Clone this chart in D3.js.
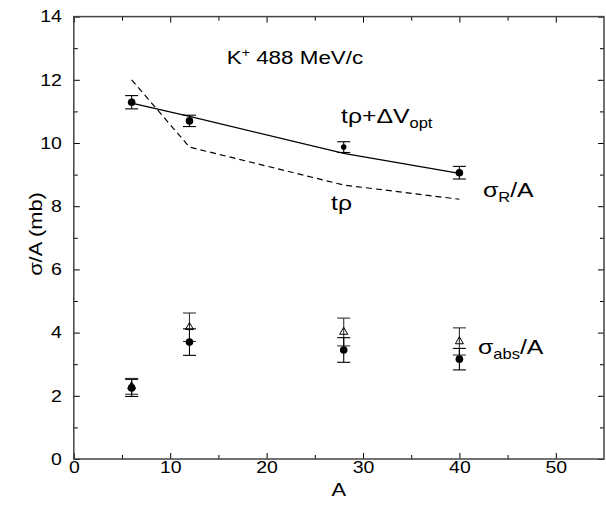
<!DOCTYPE html>
<html>
<head>
<meta charset="utf-8">
<script src="https://cdn.jsdelivr.net/npm/d3@7"></script>
<style>
  body { margin: 0; background: #fff; }
  text { font-family: "Liberation Sans", Arial, sans-serif; fill: #000; }
</style>
</head>
<body>
<script>
// Data
const massNumbers = [6, 12, 28, 40];
const sigmaR = [11.29, 10.70, 9.87, 9.06];
const sigmaRErr = [0.21, 0.18, 0.17, 0.20];
const tRhoDV = [11.26, 10.84, 9.67, 9.04]; // solid curve
const tRho = [12.0, 9.87, 8.67, 8.22]; // dashed curve
const sigmaAbs = [2.25, 3.70, 3.45, 3.16]; // filled circles
const sigmaAbsErr = [0.27, 0.42, 0.39, 0.34];
const sigmaAbsTri = [2.30, 4.17, 4.02, 3.72]; // open triangles
const sigmaAbsTriErr = [0.25, 0.45, 0.44, 0.43];
const xTicks = [0, 10, 20, 30, 40, 50];
const xMinor = [5, 15, 25, 35, 45];
const yTicks = [0, 2, 4, 6, 8, 10, 12, 14];
const yMinor = [1, 3, 5, 7, 9, 11, 13];

// Canvas
const width = 606;
const height = 506;
const SX = 1.18; // the original text is a bit stretched sideways

const svg = d3
  .select("body")
  .append("svg")
  .attr("width", width)
  .attr("height", height);

const xScale = d3.scaleLinear().domain([0, 55]).range([73.8, 604]);
const yScale = d3.scaleLinear().domain([0, 14]).range([459, 16.6]);
const plotLeft = xScale.range()[0];
const plotRight = xScale.range()[1];
const plotBottom = yScale.range()[0];
const plotTop = yScale.range()[1];

// Axes with inward ticks on all four sides
function drawAxis(axis, tx, ty) {
  const g = svg
    .append("g")
    .attr("transform", `translate(${tx}, ${ty})`)
    .call(axis);
  g.select(".domain").remove();
  g.selectAll("line").attr("stroke", "#000");
  return g;
}

const xAxis = drawAxis(
  d3.axisBottom(xScale).tickValues(xTicks).tickSize(-6).tickPadding(2.5),
  0,
  plotBottom
);
drawAxis(d3.axisBottom(xScale).tickValues(xMinor).tickSize(-4).tickFormat(""), 0, plotBottom);
drawAxis(d3.axisTop(xScale).tickValues(xTicks).tickSize(-6).tickFormat(""), 0, plotTop);
drawAxis(d3.axisTop(xScale).tickValues(xMinor).tickSize(-4).tickFormat(""), 0, plotTop);

const yAxis = drawAxis(
  d3.axisLeft(yScale).tickValues(yTicks).tickSize(-6).tickPadding(12),
  plotLeft,
  0
);
drawAxis(d3.axisLeft(yScale).tickValues(yMinor).tickSize(-4).tickFormat(""), plotLeft, 0);
drawAxis(d3.axisRight(yScale).tickValues(yTicks).tickSize(-6).tickFormat(""), plotRight, 0);
drawAxis(d3.axisRight(yScale).tickValues(yMinor).tickSize(-4).tickFormat(""), plotRight, 0);

xAxis
  .selectAll("text")
  .attr("font-family", null)
  .style("font-size", "16.5px")
  .attr("transform", `scale(${SX},1)`);
yAxis
  .selectAll("text")
  .attr("font-family", null)
  .style("font-size", "16.5px")
  .attr("x", -12 / SX)
  .attr("transform", `scale(${SX},1)`);

// Frame
svg
  .append("rect")
  .attr("x", plotLeft)
  .attr("y", plotTop)
  .attr("width", plotRight - plotLeft)
  .attr("height", plotBottom - plotTop)
  .attr("fill", "none")
  .attr("stroke", "#444")
  .attr("stroke-width", 1.5);

// Curves
const line = d3
  .line()
  .x((d) => xScale(d[0]))
  .y((d) => yScale(d[1]));

svg
  .append("path")
  .attr("d", line(massNumbers.map((a, i) => [a, tRhoDV[i]])))
  .attr("fill", "none")
  .attr("stroke", "#000")
  .attr("stroke-width", 1.2);

svg
  .append("path")
  .attr("d", line(massNumbers.map((a, i) => [a, tRho[i]])))
  .attr("fill", "none")
  .attr("stroke", "#000")
  .attr("stroke-width", 1.2)
  .attr("stroke-dasharray", "6,4");

// Error bars
function errorBars(values, errs, color) {
  const g = svg.append("g").attr("stroke", color).attr("stroke-width", 1.1);
  massNumbers.forEach((a, i) => {
    const x = xScale(a);
    const y1 = yScale(values[i] + errs[i]);
    const y2 = yScale(values[i] - errs[i]);
    g.append("line").attr("x1", x).attr("x2", x).attr("y1", y1).attr("y2", y2);
    g.append("line").attr("x1", x - 6.5).attr("x2", x + 6.5).attr("y1", y1).attr("y2", y1);
    g.append("line").attr("x1", x - 6.5).attr("x2", x + 6.5).attr("y1", y2).attr("y2", y2);
  });
}

errorBars(sigmaR, sigmaRErr, "#000");
errorBars(sigmaAbsTri, sigmaAbsTriErr, "#333");
errorBars(sigmaAbs, sigmaAbsErr, "#000");

// Markers
svg
  .selectAll(".rdot")
  .data(sigmaR)
  .enter()
  .append("circle")
  .attr("class", "rdot")
  .attr("cx", (d, i) => xScale(massNumbers[i]))
  .attr("cy", (d) => yScale(d))
  .attr("r", (d, i) => (massNumbers[i] === 28 ? 2.8 : 3.8))
  .attr("fill", "#000");

svg
  .selectAll(".tri")
  .data(sigmaAbsTri)
  .enter()
  .append("path")
  .attr("class", "tri")
  .attr("transform", (d, i) => `translate(${xScale(massNumbers[i])}, ${yScale(d)})`)
  .attr("d", d3.symbol().type(d3.symbolTriangle).size(28))
  .attr("fill", "none")
  .attr("stroke", "#000")
  .attr("stroke-width", 1);

svg
  .selectAll(".adot")
  .data(sigmaAbs)
  .enter()
  .append("circle")
  .attr("class", "adot")
  .attr("cx", (d, i) => xScale(massNumbers[i]))
  .attr("cy", (d) => yScale(d))
  .attr("r", 3.8)
  .attr("fill", "#000");

// Labels
function label(x, y, size) {
  return svg
    .append("text")
    .attr("transform", `translate(${x}, ${y}) scale(${SX},1)`)
    .style("font-size", size + "px");
}

const k = label(226.7, 64, 19);
k.append("tspan").text("K");
k.append("tspan").attr("dy", -7).style("font-size", "12px").text("+");
k.append("tspan").attr("dy", 7).text(" 488 MeV/c");

const dv = label(341, 123, 21);
dv.append("tspan").text("tρ+ΔV");
dv.append("tspan").attr("dy", 5).style("font-size", "14px").text("opt");

label(331, 210, 21).text("tρ");

const sr = label(483, 197, 21);
sr.append("tspan").text("σ");
sr.append("tspan").attr("dy", 5).style("font-size", "14px").text("R");
sr.append("tspan").attr("dy", -5).text("/A");

const sa = label(478, 354, 21);
sa.append("tspan").text("σ");
sa.append("tspan").attr("dy", 5).style("font-size", "14px").text("abs");
sa.append("tspan").attr("dy", -5).text("/A");

// Axis titles
svg
  .append("text")
  .attr("transform", `translate(${(plotLeft + plotRight) / 2}, 496) scale(${SX},1)`)
  .attr("text-anchor", "middle")
  .style("font-size", "18.5px")
  .text("A");

svg
  .append("text")
  .attr("transform", `translate(42, 234) rotate(-90) scale(${SX},1)`)
  .attr("text-anchor", "middle")
  .style("font-size", "18.5px")
  .text("σ/A (mb)");
</script>
</body>
</html>
